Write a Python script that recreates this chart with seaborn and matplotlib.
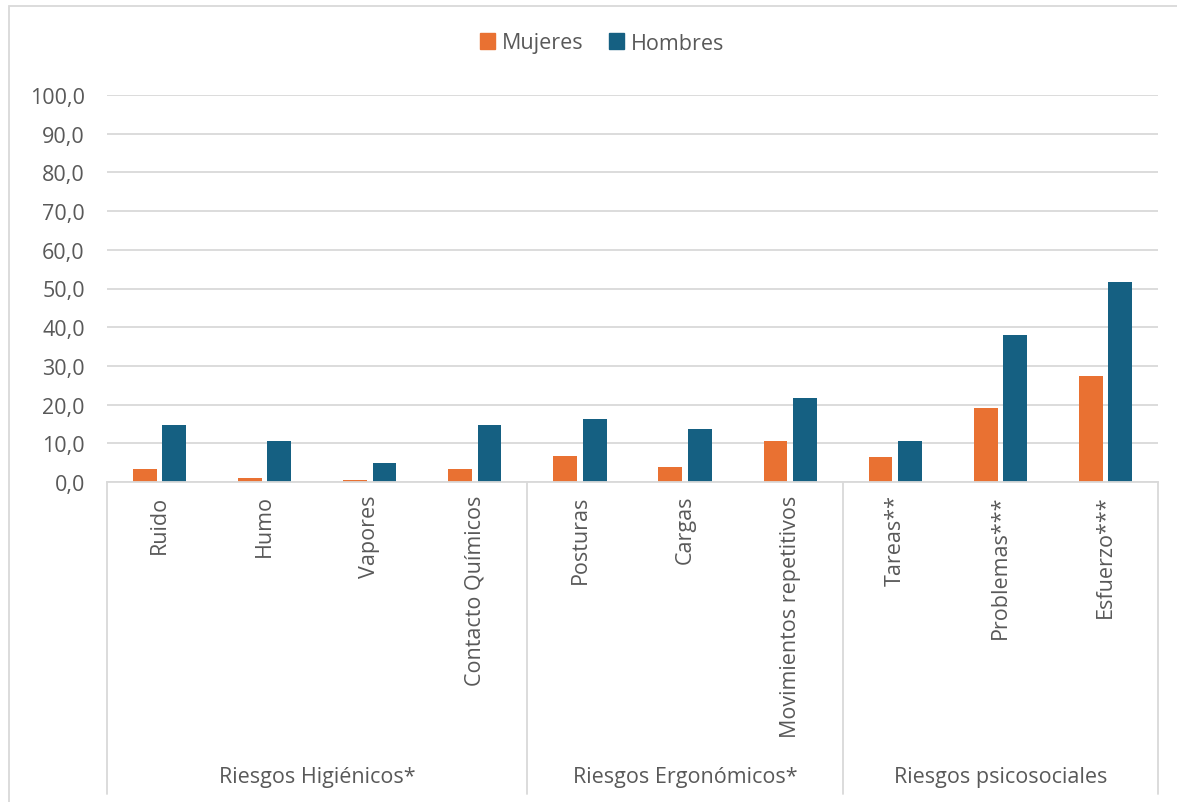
import matplotlib.pyplot as plt
import matplotlib.transforms as mtransforms
from matplotlib.ticker import FuncFormatter
from matplotlib.patches import Rectangle
import pandas as pd
import seaborn as sb

# data
categories = ["Ruido", "Humo", "Vapores", "Contacto Químicos",
              "Posturas", "Cargas", "Movimientos repetitivos",
              "Tareas**", "Problemas***", "Esfuerzo***"]
mujeres = [3.4, 1.1, 0.4, 3.4, 6.6, 3.8, 10.7, 6.5, 19.2, 27.3]
hombres = [14.8, 10.5, 4.8, 14.8, 16.2, 13.7, 21.7, 10.6, 37.9, 51.6]
groups = ["Riesgos Higiénicos*", "Riesgos Ergonómicos*", "Riesgos psicosociales"]
group_sizes = [4, 3, 3]

colors = {"Mujeres": "#E97132", "Hombres": "#156082"}
text_col = "#595959"
grid_col = "#D9D9D9"
fs = 15.5

df = pd.DataFrame({
    "categoria": categories * 2,
    "valor": mujeres + hombres,
    "sexo": ["Mujeres"] * len(categories) + ["Hombres"] * len(categories),
})

sb.set_style("white")
plt.rcParams['font.family'] = ['Open Sans', 'DejaVu Sans']

fig = plt.figure(figsize=(11.77, 8.03), dpi=100)
ax = fig.add_axes([107 / 1177, 1 - 483 / 803, 1051 / 1177, 387 / 803])

sb.barplot(data=df, x="categoria", y="valor", hue="sexo", palette=colors, saturation=1,
           width=0.56, gap=0.19, linewidth=0, ax=ax, legend=False)

ax.set_ylim(0, 100)
ax.set_xlim(-0.5, len(categories) - 0.5)
ax.set_yticks(range(0, 101, 10))
ax.yaxis.set_major_formatter(FuncFormatter(lambda v, p: f"{v:.1f}".replace(".", ",")))
ax.tick_params(axis="y", length=0, pad=16, labelsize=fs, labelcolor=text_col)
ax.grid(axis="y", color=grid_col, linewidth=1.3)
ax.set_axisbelow(True)
for s in ["top", "right", "left"]:
    ax.spines[s].set_visible(False)
ax.spines["bottom"].set_color(grid_col)
ax.spines["bottom"].set_linewidth(1.3)
ax.set_xlabel("")
ax.set_ylabel("")

# category labels, rotated
ax.set_xticks(range(len(categories)))
ax.set_xticklabels(categories, rotation=90, fontsize=fs, color=text_col, va="top")
ax.tick_params(axis="x", length=0, pad=9)

# group separators and group labels
trans = mtransforms.blended_transform_factory(ax.transData, ax.transAxes)
bounds = [-0.5]
for n in group_sizes:
    bounds.append(bounds[-1] + n)
for b in bounds:
    ax.plot([b, b], [0, -0.805], transform=trans, color=grid_col, lw=1.3, clip_on=False)
for i, g in enumerate(groups):
    ax.text((bounds[i] + bounds[i + 1]) / 2, -0.76, g, transform=trans,
            ha="center", va="center", fontsize=fs, color=text_col)

# legend
handles = [Rectangle((0, 0), 1, 1, color=colors[k]) for k in ["Mujeres", "Hombres"]]
fig.legend(handles, ["Mujeres", "Hombres"], loc="center", bbox_to_anchor=(602 / 1177, 1 - 44 / 803),
           ncol=2, frameon=False, fontsize=fs, labelcolor=text_col,
           handlelength=0.7, handleheight=0.7, handletextpad=0.3, columnspacing=1.2)

# chart frame
fig.patches.append(Rectangle((8.5 / 1177, -0.01), 1.02, 1 - 6.5 / 803 + 0.01, transform=fig.transFigure,
                             fill=False, edgecolor=grid_col, linewidth=1.3))

fig.savefig("out.png", dpi=100)
